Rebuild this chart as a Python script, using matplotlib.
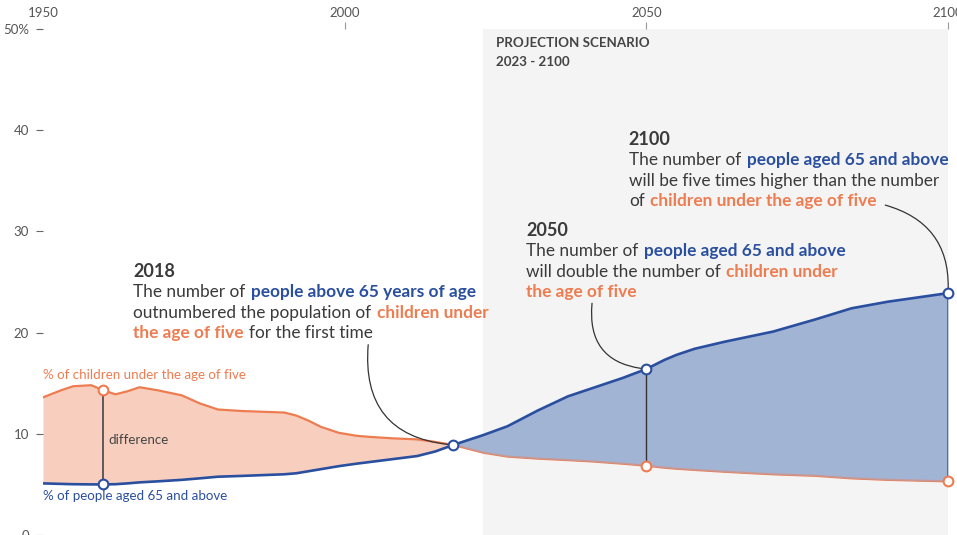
import matplotlib
matplotlib.use("Agg")
import matplotlib.pyplot as plt
import numpy as np

plt.rcParams['font.family'] = ['Lato', 'DejaVu Sans']

# values (share of world population, %)
years = [1950, 1953, 1955, 1958, 1960, 1962, 1964, 1966, 1969, 1973, 1976, 1979, 1983,
         1990, 1992, 1994, 1996, 1999, 2002, 2004, 2008, 2012, 2015, 2018, 2023, 2027, 2032,
         2037, 2041, 2046, 2050, 2053, 2055, 2058, 2063, 2067, 2071, 2078, 2084, 2090, 2100]
under5 = [13.6, 14.3, 14.7, 14.8, 14.3, 13.9, 14.2, 14.6, 14.3, 13.8, 13.0, 12.4, 12.25,
          12.1, 11.8, 11.3, 10.7, 10.1, 9.8, 9.7, 9.55, 9.45, 9.2, 8.9, 8.13, 7.75, 7.55,
          7.4, 7.27, 7.05, 6.85, 6.65, 6.55, 6.43, 6.25, 6.12, 6.0, 5.85, 5.6, 5.45, 5.3]
over65 = [5.1, 5.05, 5.02, 5.0, 5.0, 5.02, 5.1, 5.2, 5.3, 5.45, 5.6, 5.76, 5.84,
          6.0, 6.1, 6.3, 6.5, 6.8, 7.05, 7.2, 7.5, 7.8, 8.25, 8.9, 9.88, 10.75, 12.3,
          13.7, 14.5, 15.5, 16.4, 17.3, 17.8, 18.4, 19.1, 19.6, 20.1, 21.3, 22.4, 23.05, 23.9]

xticks = [1950, 2000, 2050, 2100]
yticks = [0, 10, 20, 30, 40, 50]
ylabels = ['0', '10', '20', '30', '40', '50%']
proj_start, proj_end = 2023, 2100

ORANGE = '#ee7c51'
ORANGE_FILL = '#f8cfbf'
BLUE = '#2a4f9f'
BLUE_FILL = '#a2b4d4'
DARK = '#3a3a3a'

yrs = np.array(years)
u5 = np.array(under5)
o65 = np.array(over65)

fig = plt.figure(figsize=(9.57, 5.35), dpi=100)
ax = fig.add_axes([43 / 957, 0, (948 - 43) / 957, (535 - 29) / 535])
ax.set_xlim(1950, 2100)
ax.set_ylim(0, 50)

ax.axvspan(proj_start, proj_end, color='#f4f4f4', zorder=0, lw=0)

ax.fill_between(yrs, o65, u5, where=u5 >= o65, interpolate=True,
                color=ORANGE_FILL, lw=0, zorder=1)
ax.fill_between(yrs, u5, o65, where=o65 >= u5, interpolate=True,
                color=BLUE_FILL, lw=0, zorder=1)
ax.plot(yrs, u5, color=ORANGE, lw=1.6, zorder=2, solid_capstyle='round')
ax.fill_between(yrs, u5, o65, where=o65 >= u5, interpolate=True,
                color=BLUE_FILL, lw=0, alpha=0.55, zorder=2.5)
ax.plot(yrs, o65, color=BLUE, lw=1.9, zorder=3, solid_capstyle='round')

# difference lines
for yr, col, lw in [(1960, '#444444', 1.2), (2050, '#333333', 1.0), (2100, '#6e6e6e', 2.2)]:
    i = years.index(yr)
    ax.plot([yr, yr], [under5[i], over65[i]], color=col, lw=lw, zorder=3.5)

# markers
for yr in [1960, 2018, 2050, 2100]:
    i = years.index(yr)
    ax.plot(yr, over65[i], 'o', ms=7, mfc='white', mec=BLUE, mew=1.5, zorder=5, clip_on=False)
    if yr != 2018:
        ax.plot(yr, under5[i], 'o', ms=7, mfc='white', mec=ORANGE, mew=1.5, zorder=5, clip_on=False)

# axes styling
for s in ax.spines.values():
    s.set_visible(False)
ax.xaxis.tick_top()
ax.set_xticks(xticks)
ax.set_xticklabels([str(x) for x in xticks])
ax.tick_params(axis='x', length=5, width=0.8, color='#999999', labelcolor='#555555',
               labelsize=9.5, pad=2)
ax.xaxis.get_major_ticks()[0].tick2line.set_visible(False)
ax.set_yticks(yticks)
ax.set_yticklabels(ylabels)
ax.tick_params(axis='y', length=5, width=0.8, color='#666666', labelcolor='#555555',
               labelsize=9.5, pad=5)

# series labels
ax.text(1950, 15.4, '% of children under the age of five', color=ORANGE, fontsize=9.6, va='baseline')
ax.text(1950, 3.45, '% of people aged 65 and above', color=BLUE, fontsize=9.6, va='baseline')
ax.text(1960.9, 9.4, 'difference', color='#444444', fontsize=9.6, va='center')

ax.text(2025.1, 48.6, 'PROJECTION SCENARIO', color='#444444', fontsize=9.6,
        fontweight='bold', va='center')
ax.text(2025.1, 46.7, '2023 - 2100', color='#444444', fontsize=9.6,
        fontweight='bold', va='center')

renderer = fig.canvas.get_renderer()
BODY = 12.4
LINE_H = 20.4


def text_w(s, weight):
    t = fig.text(0, 0, s, fontsize=BODY, fontweight=weight)
    w = t.get_window_extent(renderer).width
    t.remove()
    return w


space_w = text_w('a a', 'normal') - text_w('aa', 'normal')


def rich_block(x, y, title, lines):
    ax.annotate(title, xy=(x, y), xycoords='data', color=DARK, fontsize=13,
                fontweight='bold', va='baseline', ha='left')
    for i, line in enumerate(lines):
        dx = 0
        for txt, color, weight in line:
            t = ax.annotate(txt, xy=(x, y), xytext=(dx, -(i + 1) * LINE_H),
                            textcoords='offset pixels', color=color, fontsize=BODY,
                            fontweight=weight, va='baseline', ha='left')
            dx += t.get_window_extent(renderer).width + space_w * 1.3


rich_block(1964.9, 25.49, '2018', [
    [('The number of', DARK, 'normal'), ('people above 65 years of age', BLUE, 'bold')],
    [('outnumbered the population of', DARK, 'normal'), ('children under', ORANGE, 'bold')],
    [('the age of five', ORANGE, 'bold'), ('for the first time', DARK, 'normal')],
])
rich_block(2030.06, 29.55, '2050', [
    [('The number of', DARK, 'normal'), ('people aged 65 and above', BLUE, 'bold')],
    [('will double the number of', DARK, 'normal'), ('children under', ORANGE, 'bold')],
    [('the age of five', ORANGE, 'bold')],
])
rich_block(2047.1, 38.54, '2100', [
    [('The number of', DARK, 'normal'), ('people aged 65 and above', BLUE, 'bold')],
    [('will be five times higher than the number', DARK, 'normal')],
    [('of', DARK, 'normal'), ('children under the age of five', ORANGE, 'bold')],
])

# callout curves
callouts = [((2003.9, 18.8), 2018, 0.5), ((2041.0, 22.9), 2050, 0.5), ((2089.6, 32.6), 2100, -0.4)]
for start, yr, rad in callouts:
    i = years.index(yr)
    ax.annotate('', xy=(yr, over65[i]), xytext=start,
                arrowprops=dict(arrowstyle='-', color='#333333', lw=0.9,
                                shrinkA=0, shrinkB=4,
                                connectionstyle='arc3,rad=%s' % rad), zorder=4)

plt.savefig('out.png', dpi=100)
